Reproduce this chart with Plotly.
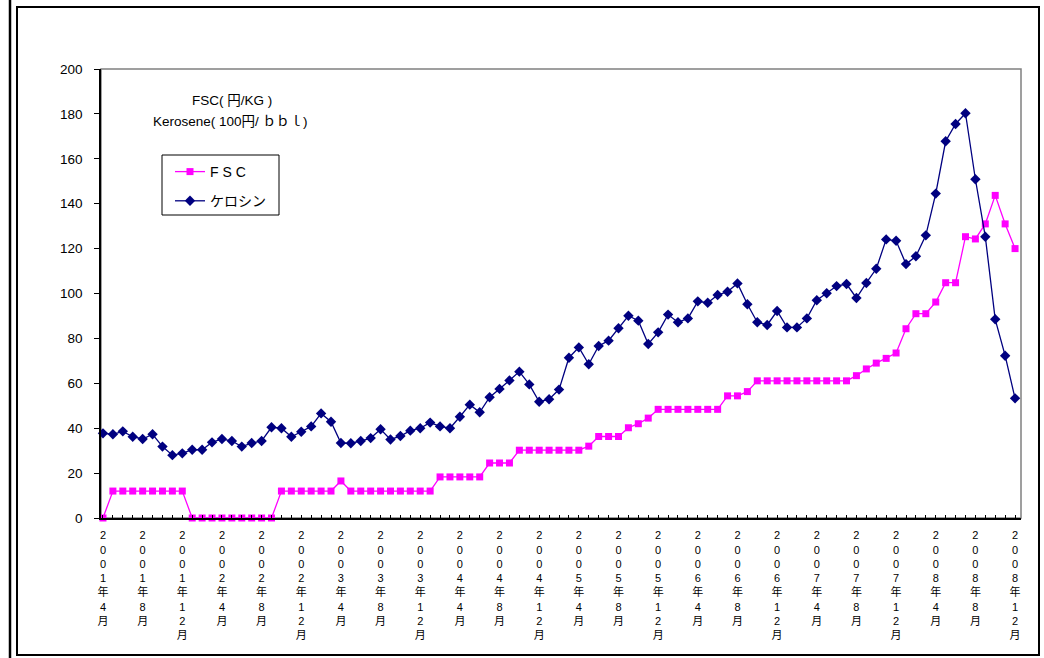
import plotly.graph_objects as go

tick_labels = [
    "2001年4月", "2001年8月", "2001年12月",
    "2002年4月", "2002年8月", "2002年12月",
    "2003年4月", "2003年8月", "2003年12月",
    "2004年4月", "2004年8月", "2004年12月",
    "2005年4月", "2005年8月", "2005年12月",
    "2006年4月", "2006年8月", "2006年12月",
    "2007年4月", "2007年8月", "2007年12月",
    "2008年4月", "2008年8月", "2008年12月",
]

kerosene = [
    37.7, 37.3, 38.6, 36.2, 35.2, 37.3, 31.8, 28.0, 28.8, 30.4,
    30.4, 33.7, 35.2, 34.3, 31.8, 33.4, 34.3, 40.4, 40.0, 36.2,
    38.4, 40.8, 46.6, 42.9, 33.4, 33.3, 34.3, 35.6, 39.5, 35.0,
    36.5, 38.9, 40.0, 42.5, 40.8, 40.0, 45.1, 50.5, 47.1, 53.8,
    57.5, 61.3, 65.2, 59.5, 51.8, 52.9, 57.2, 71.4, 76.0, 68.5,
    76.6, 79.0, 84.5, 90.1, 87.9, 77.5, 82.7, 90.6, 87.2, 88.9,
    96.5, 95.9, 99.3, 100.8, 104.5, 95.2, 87.2, 86.0, 92.2, 84.9,
    84.9, 88.9, 97.0, 100.1, 103.3, 104.2, 98.0, 104.7, 111.0, 124.1,
    123.5, 113.1, 116.6, 125.9, 144.5, 167.8, 175.5, 180.3, 150.9, 125.3,
    88.5, 72.3, 53.3,
]

fsc = [
    0, 12, 12, 12, 12, 12, 12, 12, 12, 0,
    0, 0, 0, 0, 0, 0, 0, 0, 12, 12,
    12, 12, 12, 12, 16.5, 12, 12, 12, 12, 12,
    12, 12, 12, 12, 18.3, 18.3, 18.3, 18.3, 18.3, 24.5,
    24.5, 24.5, 30.2, 30.2, 30.2, 30.2, 30.2, 30.2, 30.2, 32.0,
    36.3, 36.3, 36.3, 40.2, 42.0, 44.5, 48.4, 48.4, 48.4, 48.4,
    48.4, 48.4, 48.4, 54.4, 54.4, 56.3, 61.1, 61.1, 61.1, 61.1,
    61.1, 61.1, 61.1, 61.1, 61.1, 61.1, 63.4, 66.4, 69.0, 71.1,
    73.5, 84.3, 91.0, 91.0, 96.2, 104.8, 104.8, 125.3, 124.3, 131.0,
    143.7, 131.0, 120.0,
]

n = len(kerosene)
x_idx = list(range(n))
label_every = 4
ticktext = []
for i in x_idx:
    if i % label_every == 0:
        ticktext.append("<br>".join(list(tick_labels[i // label_every])))
    else:
        ticktext.append("")

FONT = "Liberation Sans, Arial, Noto Sans CJK JP, sans-serif"

fig = go.Figure()
fig.add_trace(go.Scatter(
    x=x_idx, y=fsc, name="F S C", mode="lines+markers",
    line=dict(color="#FF00FF", width=1.3),
    marker=dict(symbol="square", size=7, color="#FF00FF"),
    cliponaxis=False, legendgroup="a",
))
fig.add_trace(go.Scatter(
    x=x_idx, y=kerosene, name="ケロシン", mode="lines+markers",
    line=dict(color="#000080", width=1.3),
    marker=dict(symbol="diamond", size=8, color="#000080"),
    cliponaxis=False, legendgroup="b",
))

L, R, T, B = 101, 23, 69, 140
W, H = 1044, 658
pw, ph = W - L - R, H - T - B


def px(v):
    return (v - L) / pw


def py(v):
    return (H - B - v) / ph


shapes = [
    # plot area border (top/right grey)
    dict(type="rect", xref="paper", yref="paper", x0=0, x1=1, y0=0, y1=1,
         line=dict(color="#808080", width=1.5), layer="below"),
    # outer frame
    dict(type="rect", xref="paper", yref="paper", x0=px(17), x1=px(1039),
         y0=py(655), y1=py(7), line=dict(color="#000000", width=2)),
    # left thick line
    dict(type="line", xref="paper", yref="paper", x0=px(10), x1=px(10),
         y0=py(658), y1=py(0), line=dict(color="#000000", width=2.5)),
    # legend box
    dict(type="rect", xref="paper", yref="paper", x0=px(162), x1=px(279),
         y0=py(215), y1=py(155), line=dict(color="#000000", width=1),
         fillcolor="white", layer="below"),
]

fig.update_layout(
    width=W, height=H,
    margin=dict(l=L, r=R, t=T, b=B, pad=0),
    paper_bgcolor="white", plot_bgcolor="white",
    font=dict(family=FONT, size=13, color="black"),
    shapes=shapes,
    showlegend=True,
    legend=dict(
        x=px(170), y=py(156), xanchor="left", yanchor="top",
        bgcolor="rgba(0,0,0,0)", borderwidth=0,
        font=dict(family=FONT, size=14), tracegroupgap=8,
        traceorder="grouped",
    ),
    annotations=[
        dict(text="FSC( 円/KG )", xref="paper", yref="paper",
             x=px(232), y=py(101), xanchor="center", yanchor="middle",
             showarrow=False, font=dict(family=FONT, size=13.5)),
        dict(text="Kerosene( 100円/ ｂｂｌ)", xref="paper", yref="paper",
             x=px(230), y=py(121), xanchor="center", yanchor="middle",
             showarrow=False, font=dict(family=FONT, size=13.5)),
    ],
)

fig.update_xaxes(
    range=[-0.2, 92.6], tickmode="array", tickvals=x_idx, ticktext=ticktext,
    ticks="inside", ticklen=3, tickcolor="black", tickwidth=1,
    ticklabelstandoff=6,
    showline=True, linecolor="black", linewidth=2, showgrid=False,
    zeroline=False, tickangle=0, tickfont=dict(family=FONT, size=11),
)
fig.update_yaxes(
    range=[0, 200], dtick=20, tick0=0,
    ticks="outside", ticklen=5, tickcolor="black", tickwidth=1,
    ticklabelstandoff=9,
    showline=True, linecolor="black", linewidth=1.5, showgrid=False,
    zeroline=False, tickfont=dict(family=FONT, size=13.5),
)

fig.write_html(
    "out.html",
    config={"displayModeBar": False},
    post_script="document.body.style.margin='0';document.body.style.overflow='hidden';",
)
